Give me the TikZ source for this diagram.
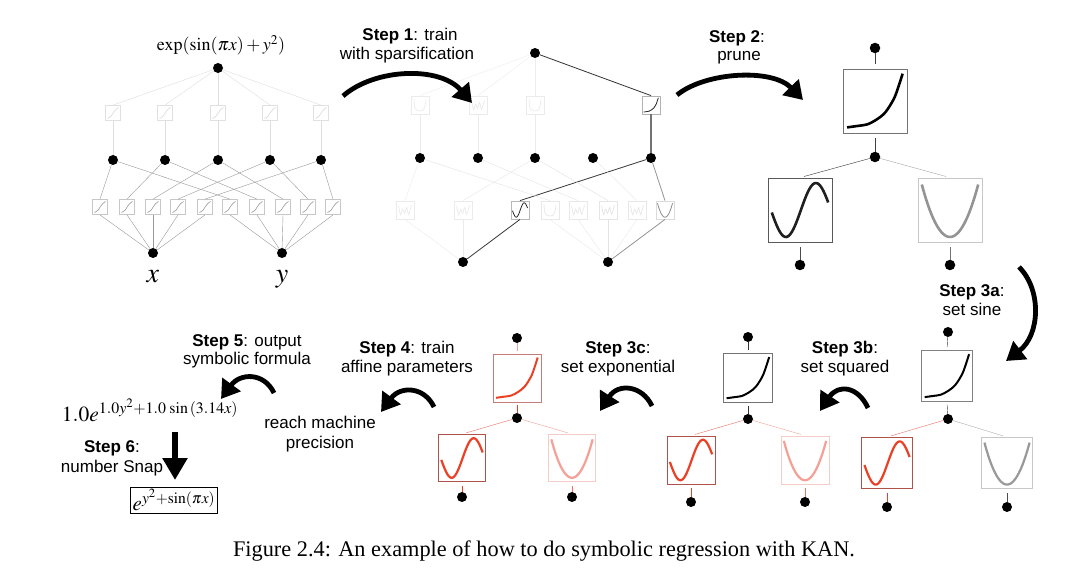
\documentclass[tikz,border=0pt]{standalone}
\usepackage{mathptmx}
\usepackage{fontspec}
\setmainfont{Liberation Serif}
\newfontfamily\hv{Liberation Sans}
\usetikzlibrary{arrows.meta}
\definecolor{kred}{RGB}{236,64,38}
\definecolor{kdred}{RGB}{176,82,76}
\definecolor{kpink}{RGB}{244,160,150}
\definecolor{kpinkb}{RGB}{244,204,200}
\definecolor{kline}{RGB}{240,110,95}
\newcommand\kcexp[3]{\begin{scope}[shift={(#1.center)},x=#2pt,y=#2pt]\draw[#3] plot[smooth] coordinates {(-0.93,-0.88)(-0.57,-0.83)(-0.26,-0.78)(0.05,-0.62)(0.35,-0.37)(0.66,0.14)(0.92,0.91)};\end{scope}}
\newcommand\kcsin[3]{\begin{scope}[shift={(#1.center)},x=#2pt,y=#2pt]\draw[#3] plot[domain=-0.94:0.94,samples=40,smooth] (\x,{0.9*sin(180*(\x-0.03))});\end{scope}}
\newcommand\kcpar[3]{\begin{scope}[shift={(#1.center)},x=#2pt,y=#2pt]\draw[#3] plot[domain=-0.94:0.94,samples=30,smooth] (\x,{-0.9+1.98*\x*\x});\end{scope}}
\newcommand\kcdiag[3]{\begin{scope}[shift={(#1.center)},x=#2pt,y=#2pt]\draw[#3] plot[smooth] coordinates {(-0.85,-0.85)(-0.3,-0.5)(0.05,0.05)(0.4,0.5)(0.85,0.85)};\end{scope}}
\newcommand\kcwig[3]{\begin{scope}[shift={(#1.center)},x=#2pt,y=#2pt]\draw[#3] plot[smooth] coordinates {(-0.8,0.5)(-0.55,-0.6)(-0.3,0.1)(-0.05,-0.4)(0.2,0.3)(0.45,-0.55)(0.8,0.6)};\end{scope}}
\newcommand\kccup[3]{\begin{scope}[shift={(#1.center)},x=#2pt,y=#2pt]\draw[#3] plot[smooth] coordinates {(-0.75,0.7)(-0.65,-0.3)(-0.3,-0.7)(0.3,-0.7)(0.6,-0.2)(0.75,0.6)};\end{scope}}
\tikzset{
  kdot/.style={circle,fill=black,inner sep=0pt,minimum size=10pt},
  kb/.style={draw,inner sep=0pt,minimum size=#1,line width=0.8pt},
  lbl/.style={font=\hv\fontsize{17}{19}\selectfont,anchor=base},
  bigarr/.style={line width=4.8pt,-{Triangle[length=18pt,width=22pt]}},
}
\begin{document}
\begin{tikzpicture}[x=1pt,y=-1pt]
\fill[white] (0,0) rectangle (1080,580);
\useasboundingbox (0,0) rectangle (1080,580);

% ---------------- Left network ----------------
\node[font=\fontsize{18}{20}\selectfont,anchor=base] (Lf) at (221,51) {$\exp(\sin(\pi x)+y^2)$};
\node[kdot] (Lt) at (218,68) {};
\foreach \i/\xx in {1/113,2/165,3/218,4/270,5/321}{
  \node[kb=15pt,draw=black!12] (Lb\i) at (\xx,113) {};
  \kcdiag{Lb\i}{6.5}{black!15,line width=0.6pt}
  \node[kdot] (Lm\i) at (\xx,160) {};
  \draw[black!13] (Lt) -- (Lb\i.north);
  \draw[black!13] (Lb\i.south) -- (Lm\i);
}
\node[kdot] (Lx) at (153,253) {};
\node[kdot] (Ly) at (282,253) {};
\node[font=\fontsize{28}{30}\selectfont,anchor=base] (Lxl) at (153,283) {$x$};
\node[font=\fontsize{28}{30}\selectfont,anchor=base] (Lyl) at (282,283) {$y$};
\foreach \j/\xx/\m/\v in {0/100/1/Lx,1/127/2/Lx,2/153/3/Lx,3/178/4/Lx,4/205/5/Lx,5/230/1/Ly,6/257/2/Ly,7/283/3/Ly,8/308/4/Ly,9/333/5/Ly}{
  \node[kb=15pt,draw=black!22] (Lc\j) at (\xx,207) {};
  \kcdiag{Lc\j}{6.5}{black!40,line width=0.6pt}
  \draw[black!40] (Lm\m) -- (Lc\j.north);
  \draw[black!40] (Lc\j.south) -- (\v);
}

% ---------------- Middle network ----------------
\node[kdot] (Mt) at (535,53) {};
\foreach \i/\xx in {1/420,2/478,3/535,4/593,5/651} \node[kdot] (Mm\i) at (\xx,158) {};
\node[kb=18pt,draw=black!8] (Mb1) at (420,105) {};
\kccup{Mb1}{8}{black!9,line width=0.6pt}
\node[kb=18pt,draw=black!8] (Mb2) at (478,105) {};
\kcwig{Mb2}{8}{black!9,line width=0.6pt}
\node[kb=18pt,draw=black!8] (Mb3) at (535,105) {};
\kccup{Mb3}{8}{black!9,line width=0.6pt}
\node[kb=18pt,draw=black!30] (Mb5) at (651,105) {};
\kcexp{Mb5}{8}{black!85,line width=0.8pt}
\draw[black!7] (Mt) -- (Mb1.north);
\draw[black!7] (Mt) -- (Mb2.north);
\draw[black!7] (Mt) -- (Mb3.north);
\draw[black!80,line width=0.8pt] (Mt) -- (Mb5.north);
\draw[black!8] (Mb1.south) -- (Mm1);
\draw[black!8] (Mb2.south) -- (Mm2);
\draw[black!8] (Mb3.south) -- (Mm3);
\draw[black!55,line width=1.3pt] (Mb5.south) -- (Mm5);
\node[kdot] (Mx) at (463,262) {};
\node[kdot] (My) at (608,262) {};
\node[kb=18pt,draw=black!8] (Mc0) at (405,210) {};
\kcwig{Mc0}{8}{black!9,line width=0.6pt}
\node[kb=18pt,draw=black!8] (Mc2) at (463,210) {};
\kcwig{Mc2}{8}{black!9,line width=0.6pt}
\node[kb=18pt,draw=black!28] (Mc4) at (520,210) {};
\kcsin{Mc4}{8}{black!85,line width=0.8pt}
\node[kb=18pt,draw=black!9] (Mc5) at (550,210) {};
\kccup{Mc5}{8}{black!10,line width=0.6pt}
\node[kb=18pt,draw=black!9] (Mc6) at (578,210) {};
\kcwig{Mc6}{8}{black!10,line width=0.6pt}
\node[kb=18pt,draw=black!10] (Mc7) at (608,210) {};
\kcwig{Mc7}{8}{black!12,line width=0.6pt}
\node[kb=18pt,draw=black!9] (Mc8) at (637,210) {};
\kcwig{Mc8}{8}{black!10,line width=0.6pt}
\node[kb=18pt,draw=black!14] (Mc9) at (665,210) {};
\kcpar{Mc9}{8}{black!45,line width=0.8pt}
\draw[black!7] (Mm1) -- (Mc0.north);
\draw[black!8] (Mc0.south) -- (Mx);
\draw[black!9] (Mm3) -- (Mc2.north);
\draw[black!8] (Mc2.south) -- (Mx);
\draw[black!78,line width=0.8pt] (Mm5) -- (Mc4.north);
\draw[black!78,line width=0.8pt] (Mc4.south) -- (Mx);
\draw[black!11] (Mm1) -- (Mc5.north);
\draw[black!9] (Mc5.south) -- (My);
\draw[black!10] (Mm2) -- (Mc6.north);
\draw[black!9] (Mc6.south) -- (My);
\draw[black!12] (Mm3) -- (Mc7.north);
\draw[black!11] (Mc7.south) -- (My);
\draw[black!9] (Mm4) -- (Mc8.north);
\draw[black!8] (Mc8.south) -- (My);
\draw[black!42,line width=0.8pt] (Mm5) -- (Mc9.north);
\draw[black!42,line width=0.8pt] (Mc9.south) -- (My);

% ---------------- Pruned network ----------------
\node[kdot,minimum size=10.5pt] (Pt) at (875,48) {};
\node[kb=64pt,draw=black!55] (Pb) at (875,101) {};
\kcexp{Pb}{30}{black,line width=2.6pt}
\node[kdot,minimum size=10.5pt] (Pm) at (875,157) {};
\node[kb=64pt,draw=black!65] (Pl) at (800,210) {};
\kcsin{Pl}{30}{black!88,line width=2.6pt}
\node[kb=64pt,draw=black!22] (Pr) at (950,210) {};
\kcpar{Pr}{30}{black!42,line width=2.6pt}
\node[kdot,minimum size=10.5pt] (Px) at (800,265) {};
\node[kdot,minimum size=10.5pt] (Py) at (950,265) {};
\draw[black!75,shorten >=5pt] (Pt) -- (Pb.north);
\draw[black!75,shorten <=5pt] (Pb.south) -- (Pm);
\draw[black!80,shorten >=4pt] (Pm) -- (Pl.north);
\draw[black!35,shorten >=4pt] (Pm) -- (Pr.north);
\draw[black!70,shorten <=5pt] (Pl.south) -- (Px);
\draw[black!55,shorten <=5pt] (Pr.south) -- (Py);

% ---------------- Step 3a network ----------------
\node[kdot] (At) at (948,332) {};
\node[kb=51pt,draw=black!50] (Ab) at (947,376) {};
\kcexp{Ab}{24}{black,line width=2pt}
\node[kdot] (Am) at (948,419) {};
\node[kb=51pt,draw=kdred] (Al) at (887,463) {};
\kcsin{Al}{24}{kred,line width=2.2pt}
\node[kb=51pt,draw=black!22] (Ar) at (1007,463) {};
\kcpar{Ar}{24}{black!40,line width=2.2pt}
\node[kdot] (Ax) at (887,507) {};
\node[kdot] (Ay) at (1007,507) {};
\draw[black!80,shorten >=3pt] (At) -- (Ab.north);
\draw[black!80,shorten <=3pt] (Ab.south) -- (Am);
\draw[kline,shorten >=4pt] (Am) -- (Al.north);
\draw[black!32,shorten >=4pt] (Am) -- (Ar.north);
\draw[kred,shorten <=4pt] (Al.south) -- (Ax);
\draw[black!70,shorten <=4pt] (Ar.south) -- (Ay);

% ---------------- Step 3b network ----------------
\node[kdot] (Bt) at (748,337) {};
\node[kb=49pt,draw=black!55] (Bb) at (748,378) {};
\kcexp{Bb}{23}{black,line width=2pt}
\node[kdot] (Bm) at (748,419) {};
\node[kb=48pt,draw=kdred] (Bl) at (691,460) {};
\kcsin{Bl}{22.5}{kred,line width=2.2pt}
\node[kb=48pt,draw=kpinkb] (Br) at (805,460) {};
\kcpar{Br}{22.5}{kpink,line width=2.2pt}
\node[kdot] (Bx) at (691,502) {};
\node[kdot] (By) at (805,502) {};
\draw[black!80,shorten >=3pt] (Bt) -- (Bb.north);
\draw[black!80,shorten <=3pt] (Bb.south) -- (Bm);
\draw[kline,shorten >=4pt] (Bm) -- (Bl.north);
\draw[kpink,shorten >=4pt] (Bm) -- (Br.north);
\draw[kred,shorten <=4pt] (Bl.south) -- (Bx);
\draw[kline,shorten <=4pt] (Br.south) -- (By);

% ---------------- Step 3c network ----------------
\node[kdot] (Ct) at (517,338) {};
\node[kb=48pt,draw=kdred!75] (Cb) at (517,378) {};
\kcexp{Cb}{22.5}{kred,line width=2pt}
\node[kdot] (Cm) at (517,418) {};
\node[kb=47pt,draw=kdred] (Cl) at (462,458) {};
\kcsin{Cl}{22}{kred,line width=2.2pt}
\node[kb=47pt,draw=kpinkb] (Cr) at (572,458) {};
\kcpar{Cr}{22}{kpink,line width=2.2pt}
\node[kdot] (Cx) at (462,497) {};
\node[kdot] (Cy) at (572,497) {};
\draw[kpink,shorten >=3pt] (Ct) -- (Cb.north);
\draw[kred,shorten <=3pt] (Cb.south) -- (Cm);
\draw[kline,shorten >=4pt] (Cm) -- (Cl.north);
\draw[kpink,shorten >=4pt] (Cm) -- (Cr.north);
\draw[kred,shorten <=4pt] (Cl.south) -- (Cx);
\draw[kline,shorten <=4pt] (Cr.south) -- (Cy);

% ---------------- Labels ----------------
\node[lbl] (s1a) at (410,41) {\textbf{Step 1}: train};
\node[lbl] (s1b) at (407,60) {with sparsification};
\node[lbl] (s2a) at (737,43) {\textbf{Step 2}:};
\node[lbl] (s2b) at (739,61) {prune};
\node[lbl] (s3aa) at (972,297) {\textbf{Step 3a}:};
\node[lbl] (s3ab) at (972,316) {set sine};
\node[lbl] (s3ba) at (845,353) {\textbf{Step 3b}:};
\node[lbl] (s3bb) at (845,372) {set squared};
\node[lbl] (s3ca) at (618,353) {\textbf{Step 3c}:};
\node[lbl] (s3cb) at (618,372) {set exponential};
\node[lbl] (s4a) at (407,353) {\textbf{Step 4}: train};
\node[lbl] (s4b) at (407,372) {affine parameters};
\node[lbl] (s5a) at (247,346) {\textbf{Step 5}: output};
\node[lbl] (s5b) at (247,365) {symbolic formula};
\node[lbl] (rma) at (320,428) {reach machine};
\node[lbl] (rmb) at (320,448) {precision};
\node[lbl] (s6a) at (112,452) {\textbf{Step 6}:};
\node[lbl] (s6b) at (112,472) {number Snap};
\node[font=\fontsize{21.5}{24}\selectfont,anchor=base] (f1) at (150,421) {$1.0e^{1.0y^2+1.0\,\sin\,(3.14x)}$};
\node[font=\fontsize{21}{24}\selectfont,draw,line width=0.8pt,inner sep=2pt] (f2) at (174,500) {$e^{y^2+\sin(\pi x)}$};
\node[font=\fontsize{22.3}{25}\selectfont,anchor=base] (cap) at (544,556) {Figure 2.4: An example of how to do symbolic regression with KAN.};

% ---------------- Arrows ----------------
\coordinate (a1s) at (343,96); \coordinate (a1e) at (472,103);
\draw[bigarr] (a1s) .. controls (375,68) and (440,66) .. (a1e);
\coordinate (a2s) at (677,95); \coordinate (a2e) at (803,100);
\draw[bigarr] (a2s) .. controls (705,72) and (772,68) .. (a2e);
\coordinate (a3s) at (1019,267); \coordinate (a3e) at (1006,361);
\draw[bigarr] (a3s) .. controls (1042,290) and (1040,335) .. (a3e);
\coordinate (a3bs) at (868,408); \coordinate (a3be) at (820,411);
\draw[bigarr] (a3bs) .. controls (858,386) and (838,384) .. (a3be);
\coordinate (a3cs) at (652,406); \coordinate (a3ce) at (600,411);
\draw[bigarr] (a3cs) .. controls (642,385) and (618,383) .. (a3ce);
\coordinate (a4s) at (434,407); \coordinate (a4e) at (381,412);
\draw[bigarr] (a4s) .. controls (424,386) and (400,386) .. (a4e);
\coordinate (a5s) at (274,393); \coordinate (a5e) at (221,399);
\draw[bigarr] (a5s) .. controls (264,372) and (240,373) .. (a5e);
\coordinate (a6s) at (175,432); \coordinate (a6e) at (175,480);
\draw[line width=6pt,-{Triangle[length=22pt,width=24pt]}] (a6s) -- (a6e);
\end{tikzpicture}
\end{document}
